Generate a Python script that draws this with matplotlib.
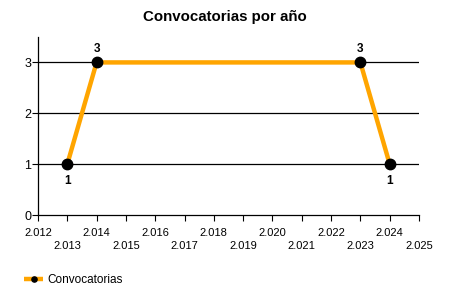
import matplotlib.pyplot as plt
from matplotlib.ticker import FuncFormatter

plt.rcParams['font.family'] = ['Liberation Sans', 'DejaVu Sans']

# Datos
years = [2013, 2014, 2023, 2024]
counts = [1, 3, 3, 1]
label_pos = ['below', 'above', 'above', 'below']
series_name = 'Convocatorias'
title = 'Convocatorias por año'

fig = plt.figure(figsize=(4.5, 3), dpi=100)
ax = fig.add_axes([0.0844, 0.2833, 0.8467, 0.5934])

for y in [1, 2, 3]:
    ax.axhline(y, color='black', lw=0.9, zorder=1)

line, = ax.plot(years, counts, color='#FFA500', lw=3.2, marker='o',
                markersize=7.5, markerfacecolor='black', markeredgecolor='black',
                zorder=3, solid_capstyle='butt')

for x, y, pos in zip(years, counts, label_pos):
    dy = 10 if pos == 'above' else -12
    ax.annotate(str(y), (x, y), xytext=(0, dy), textcoords='offset points',
                ha='center', va='center', fontsize=8.5, fontweight='bold')

ax.set_xlim(2012, 2025)
ax.set_ylim(0, 3.5)
ax.set_yticks([0, 1, 2, 3])
ax.set_xticks(range(2012, 2026))


def fmt_year(v, pos):
    s = f'{int(v):,}'.replace(',', '.')
    return s


ax.xaxis.set_major_formatter(FuncFormatter(fmt_year))
for i, lbl in enumerate(ax.get_xticklabels()):
    if i % 2 == 1:
        lbl.set_y(-0.078)

ax.tick_params(axis='x', labelsize=8, length=4, width=0.8, pad=5)
ax.tick_params(axis='y', labelsize=9, length=4, width=0.8, pad=1)

for s in ['top', 'right']:
    ax.spines[s].set_visible(False)
ax.spines['left'].set_linewidth(0.9)
ax.spines['bottom'].set_linewidth(0.9)

fig.suptitle(title, x=0.5, y=0.965, fontsize=10.8, fontweight='bold')

fig.legend([line], [series_name], loc='lower left', bbox_to_anchor=(0.03, 0.01),
           frameon=False, fontsize=8.5, handlelength=1.6, markerscale=0.5,
           handletextpad=0.4)

fig.savefig('out.png', dpi=100)
